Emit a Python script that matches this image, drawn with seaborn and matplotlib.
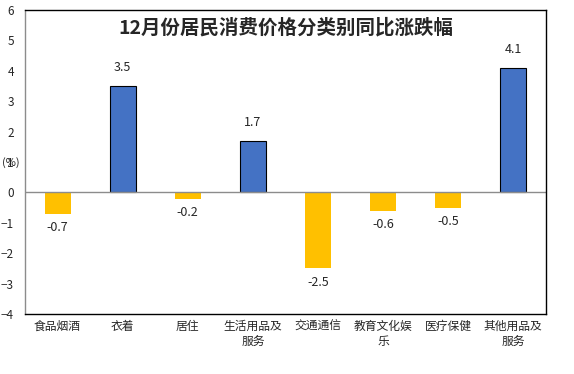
import matplotlib
matplotlib.use('Agg')
import pandas as pd
import matplotlib.pyplot as plt
import seaborn as sns

categories = ['食品烟酒', '衣着', '居住', '生活用品及\n服务', '交通通信', '教育文化娱\n乐', '医疗保健', '其他用品及\n服务']
values = [-0.7, 3.5, -0.2, 1.7, -2.5, -0.6, -0.5, 4.1]
value_labels = ['-0.7', '3.5', '-0.2', '1.7', '-2.5', '-0.6', '-0.5', '4.1']

df = pd.DataFrame({'类别': categories, '涨跌幅': values})
df['sign'] = ['up' if v > 0 else 'down' for v in values]

sns.set_style('white')
plt.rcParams['font.family'] = ['Noto Sans CJK SC', 'DejaVu Sans']

fig = plt.figure(figsize=(5.74, 3.74), dpi=100)
ax = fig.add_axes([0.0436, 0.1604, 0.9074, 0.8126])

sns.barplot(data=df, x='类别', y='涨跌幅', hue='sign', dodge=False,
            palette={'up': '#4472C4', 'down': '#FFC000'}, width=0.4,
            saturation=1, legend=False, ax=ax)

# black outline only on the positive bars
for patch in ax.patches:
    if patch.get_height() > 0:
        patch.set_edgecolor('black')
        patch.set_linewidth(0.8)
    else:
        patch.set_linewidth(0)

for i, (v, lab) in enumerate(zip(values, value_labels)):
    if v > 0:
        ax.text(i, v + 0.4, lab, ha='center', va='bottom', fontsize=9)
    else:
        ax.text(i, v - 0.25, lab, ha='center', va='top', fontsize=9)

ax.axhline(0, color='#8c8c8c', linewidth=1)
ax.set_ylim(-4, 6)
ax.set_xlim(-0.5, 7.5)
ax.set_yticks(range(-4, 7))
ax.set_xlabel('')
ax.set_ylabel('')
ax.tick_params(axis='y', labelsize=8.5, length=0, pad=8)
ax.tick_params(axis='x', labelsize=8.5, length=0, pad=4)

for side in ['top', 'right', 'bottom']:
    ax.spines[side].set_color('black')
    ax.spines[side].set_linewidth(1)
ax.spines['left'].set_color('#8c8c8c')
ax.spines['left'].set_linewidth(1)

# unit label sits at the left, level with the 1 tick, as in the original
ax.text(-0.028, 0.5, '(%)', transform=ax.transAxes, fontsize=8, ha='center', va='center')

ax.text(0.5, 0.975, '12月份居民消费价格分类别同比涨跌幅', transform=ax.transAxes,
        ha='center', va='top', fontsize=14, fontweight='bold')

fig.savefig('out.png', dpi=100)
